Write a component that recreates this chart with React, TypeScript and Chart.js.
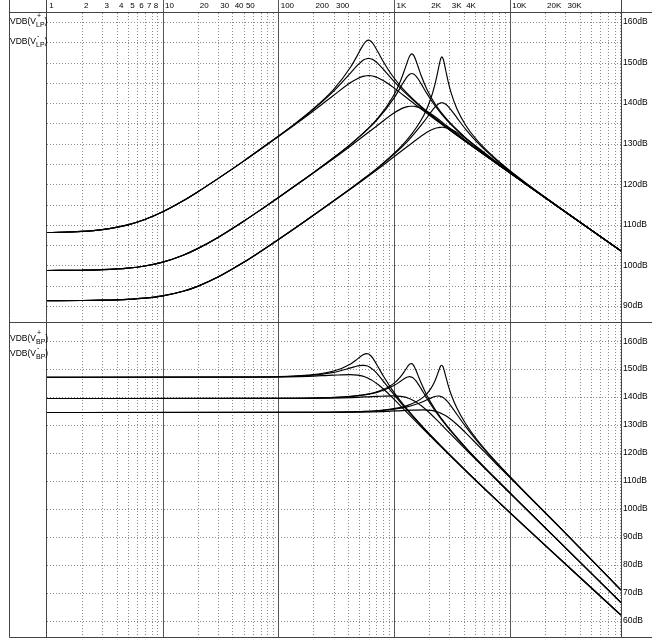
import React, { useEffect, useRef } from 'react';
import { Chart, registerables } from 'chart.js';

Chart.register(...registerables);

// ---------- axes ----------
const GRID_X = [
  1, 2, 3, 4, 5, 6, 7, 8, 9,
  10, 20, 30, 40, 50, 60, 70, 80, 90,
  100, 200, 300, 400, 500, 600, 700, 800, 900,
  1000, 2000, 3000, 4000, 5000, 6000, 7000, 8000, 9000,
  10000, 20000, 30000, 40000, 50000, 60000, 70000, 80000, 90000,
];
const DECADES = [10, 100, 1000, 10000];
const X_LABEL_VALUES = [1, 2, 3, 4, 5, 6, 7, 8, 10, 20, 30, 40, 50, 100, 200, 300, 1000, 2000, 3000, 4000, 10000, 20000, 30000];
const X_LABEL_TEXT = ['1', '2', '3', '4', '5', '6', '7', '8', '10', '20', '30', '40', '50', '100', '200', '300', '1K', '2K', '3K', '4K', '10K', '20K', '30K'];
const X_MIN = 1;
const X_MAX = 91000;

const TOP_Y_TICKS = [90, 95, 100, 105, 110, 115, 120, 125, 130, 135, 140, 145, 150, 155, 160];
const BOT_Y_TICKS = [60, 70, 80, 90, 100, 110, 120, 130, 140, 150, 160];
const TOP_Y_MIN = 85.8;
const TOP_Y_MAX = 162.2;
const BOT_Y_MIN = 54.2;
const BOT_Y_MAX = 166.5;

const TOP_TRACE_NAMES = ['+', '-'];
const TOP_TRACE_SUB = 'LP';
const BOT_TRACE_NAMES = ['+', '-'];
const BOT_TRACE_SUB = 'BP';

// ---------- top panel (LP) ----------
const FREQ_TOP_A = [1, 2, 3, 5, 7, 10, 15, 20, 30, 50, 70, 100, 130, 180, 300, 420, 480, 522, 552, 576, 600, 624, 648, 678, 720, 810, 960, 1200, 1800, 3000, 6000, 91000];
const TOP_A1 = [108.10, 108.38, 108.82, 109.98, 111.29, 113.20, 115.92, 118.10, 121.38, 125.69, 128.69, 131.88, 134.31, 137.49, 143.40, 148.88, 151.75, 153.66, 154.75, 155.31, 155.50, 155.32, 154.85, 154.02, 152.69, 150.05, 146.79, 143.40, 138.59, 133.55, 127.28, 103.58];
const TOP_A2 = [108.10, 108.38, 108.82, 109.98, 111.29, 113.20, 115.92, 118.10, 121.38, 125.69, 128.67, 131.85, 134.25, 137.37, 142.94, 147.44, 149.28, 150.26, 150.73, 150.94, 151.01, 150.94, 150.77, 150.42, 149.79, 148.24, 145.84, 142.94, 138.43, 133.50, 127.27, 103.58];
const TOP_A3 = [108.10, 108.38, 108.82, 109.98, 111.29, 113.20, 115.92, 118.10, 121.38, 125.69, 128.63, 131.77, 134.11, 137.07, 141.94, 145.05, 146.02, 146.46, 146.65, 146.73, 146.75, 146.73, 146.66, 146.52, 146.25, 145.50, 144.06, 141.94, 138.05, 133.37, 127.24, 103.58];

const FREQ_TOP_B = [1, 2, 3, 5, 7, 10, 15, 20, 30, 50, 70, 100, 150, 200, 300, 426, 710, 994, 1136, 1235, 1306, 1363, 1420, 1477, 1534, 1605, 1704, 1917, 2272, 2840, 4260, 7100, 14200, 91000];
const TOP_B1 = [98.73, 98.81, 98.94, 99.33, 99.86, 100.80, 102.50, 104.13, 106.89, 110.89, 113.68, 116.75, 120.28, 122.84, 126.57, 130.02, 136.05, 142.00, 145.55, 148.38, 150.41, 151.67, 152.14, 151.70, 150.63, 149.02, 146.87, 143.37, 139.66, 136.05, 131.13, 126.04, 119.76, 103.55];
const TOP_B2 = [98.73, 98.81, 98.94, 99.33, 99.86, 100.80, 102.50, 104.13, 106.89, 110.89, 113.68, 116.75, 120.28, 122.83, 126.55, 129.97, 135.84, 141.21, 143.94, 145.67, 146.64, 147.13, 147.28, 147.13, 146.73, 146.00, 144.80, 142.32, 139.18, 135.83, 131.06, 126.02, 119.76, 103.55];
const TOP_B3 = [98.73, 98.81, 98.94, 99.33, 99.86, 100.80, 102.50, 104.13, 106.89, 110.89, 113.68, 116.73, 120.23, 122.75, 126.36, 129.56, 134.42, 137.54, 138.51, 138.94, 139.13, 139.21, 139.23, 139.21, 139.14, 139.01, 138.74, 137.98, 136.55, 134.42, 130.54, 125.85, 119.72, 103.55];

const FREQ_TOP_C = [1, 2, 3, 5, 7, 10, 15, 20, 30, 50, 70, 100, 150, 200, 300, 500, 774, 1290, 1806, 2064, 2245, 2374, 2477, 2528, 2580, 2632, 2683, 2786, 2915, 3096, 3483, 4128, 5160, 7740, 12900, 25800, 91000];
const TOP_C1 = [91.31, 91.35, 91.42, 91.63, 91.92, 92.48, 93.61, 94.82, 97.12, 100.76, 103.43, 106.39, 109.84, 112.36, 115.93, 120.56, 124.84, 130.93, 137.08, 141.01, 144.56, 147.65, 150.16, 151.06, 151.39, 151.07, 150.25, 148.03, 145.43, 142.59, 138.56, 134.61, 130.93, 125.96, 120.85, 114.58, 103.53];
const TOP_C2 = [91.31, 91.35, 91.42, 91.63, 91.92, 92.48, 93.61, 94.82, 97.12, 100.76, 103.43, 106.39, 109.84, 112.35, 115.91, 120.52, 124.72, 130.46, 135.42, 137.68, 138.99, 139.64, 139.96, 140.04, 140.07, 140.04, 139.97, 139.70, 139.21, 138.34, 136.37, 133.60, 130.46, 125.80, 120.80, 114.56, 103.53];
const TOP_C3 = [91.31, 91.35, 91.42, 91.63, 91.92, 92.48, 93.61, 94.82, 97.12, 100.76, 103.43, 106.39, 109.84, 112.33, 115.86, 120.38, 124.36, 129.23, 132.34, 133.31, 133.75, 133.93, 134.01, 134.03, 134.04, 134.04, 134.02, 133.94, 133.81, 133.54, 132.78, 131.35, 129.23, 125.34, 120.65, 114.53, 103.53];

// ---------- bottom panel (BP) ----------
const FREQ_BOT_A = [1, 60, 120, 180, 300, 420, 480, 522, 552, 576, 600, 624, 648, 678, 720, 810, 960, 1200, 1800, 3000, 6000, 91000];
const BOT_A1 = [147.10, 147.18, 147.43, 147.85, 149.32, 151.88, 153.59, 154.77, 155.37, 155.57, 155.40, 154.88, 154.09, 152.86, 151.01, 147.34, 142.61, 137.28, 128.95, 119.47, 107.30, 62.0];
const BOT_A2 = [147.10, 147.17, 147.38, 147.73, 148.86, 150.44, 151.12, 151.37, 151.35, 151.19, 150.91, 150.50, 150.00, 149.26, 148.11, 145.53, 141.66, 136.82, 128.79, 119.42, 107.29, 62.0];
const BOT_A3 = [147.10, 147.14, 147.25, 147.43, 147.86, 148.05, 147.86, 147.57, 147.27, 146.98, 146.66, 146.29, 145.89, 145.36, 144.57, 142.79, 139.88, 135.82, 128.41, 119.29, 107.26, 62.0];

const FREQ_BOT_B = [1, 142, 284, 426, 710, 994, 1136, 1235, 1306, 1363, 1420, 1477, 1534, 1605, 1704, 1917, 2272, 2840, 4260, 7100, 14200, 91000];
const BOT_B1 = [139.50, 139.59, 139.84, 140.29, 141.89, 144.91, 147.30, 149.41, 150.95, 151.84, 151.96, 151.18, 149.78, 147.77, 145.10, 140.58, 135.39, 129.85, 121.40, 111.89, 99.50, 66.5];
const BOT_B2 = [139.50, 139.58, 139.82, 140.24, 141.68, 144.12, 145.69, 146.70, 147.18, 147.30, 147.10, 146.61, 145.88, 144.75, 143.03, 139.53, 134.91, 129.64, 121.33, 111.86, 99.49, 66.5];
const BOT_B3 = [139.50, 139.54, 139.65, 139.83, 140.26, 140.45, 140.26, 139.97, 139.67, 139.38, 139.06, 138.69, 138.29, 137.76, 136.97, 135.19, 132.28, 128.22, 120.81, 111.69, 99.45, 66.5];

const FREQ_BOT_C = [1, 258, 516, 774, 1290, 1806, 2064, 2245, 2374, 2477, 2528, 2580, 2632, 2683, 2786, 2915, 3096, 3483, 4128, 5160, 7740, 12900, 25800, 91000];
const BOT_C1 = [134.50, 134.59, 134.85, 135.31, 136.96, 140.19, 142.96, 145.78, 148.39, 150.53, 151.25, 151.40, 150.91, 149.92, 147.38, 144.38, 141.02, 135.97, 130.55, 124.92, 116.43, 106.80, 94.20, 71.0];
const BOT_C2 = [134.50, 134.58, 134.80, 135.19, 136.49, 138.53, 139.63, 140.21, 140.38, 140.33, 140.23, 140.08, 139.88, 139.64, 139.05, 138.16, 136.77, 133.78, 129.53, 124.45, 116.27, 106.75, 94.19, 71.0];
const BOT_C3 = [134.50, 134.54, 134.65, 134.83, 135.26, 135.45, 135.26, 134.97, 134.67, 134.38, 134.22, 134.06, 133.88, 133.69, 133.29, 132.76, 131.97, 130.19, 127.28, 123.22, 115.81, 106.60, 94.15, 71.0];

const FONT = '"Liberation Sans", Arial, sans-serif';

function series(freqs: number[], vals: number[], axis: string) {
  return {
    data: freqs.map((f, i) => ({ x: f, y: vals[i] })),
    yAxisID: axis,
    borderColor: '#000',
    borderWidth: 1.15,
    pointRadius: 0,
    fill: false,
    cubicInterpolationMode: 'monotone' as const,
  };
}

const framePlugin = {
  id: 'spiceFrame',
  beforeDatasetsDraw(chart: any) {
    const { ctx, chartArea: a, scales } = chart;
    const sx = scales.x;
    const yT = scales.y;
    const yB = scales.y2;
    const line = (x1: number, y1: number, x2: number, y2: number) => {
      ctx.beginPath();
      ctx.moveTo(x1, y1);
      ctx.lineTo(x2, y2);
      ctx.stroke();
    };
    ctx.save();
    ctx.lineWidth = 1;
    ctx.strokeStyle = '#8a8a8a';
    ctx.setLineDash([1, 2]);
    for (const v of TOP_Y_TICKS) {
      const py = Math.round(yT.getPixelForValue(v)) + 0.5;
      line(a.left, py, a.right, py);
    }
    for (const v of BOT_Y_TICKS) {
      const py = Math.round(yB.getPixelForValue(v)) + 0.5;
      line(a.left, py, a.right, py);
    }
    for (const v of GRID_X) {
      if (v === X_MIN || DECADES.includes(v)) continue;
      const px = Math.round(sx.getPixelForValue(v)) + 0.5;
      line(px, a.top, px, a.bottom);
    }
    ctx.setLineDash([]);
    ctx.strokeStyle = '#555';
    for (const v of DECADES) {
      const px = Math.round(sx.getPixelForValue(v)) + 0.5;
      line(px, 0, px, a.bottom);
    }
    ctx.restore();
  },
  afterDraw(chart: any) {
    const { ctx, chartArea: a, scales, width } = chart;
    const yB = scales.y2;
    const line = (x1: number, y1: number, x2: number, y2: number) => {
      ctx.beginPath();
      ctx.moveTo(x1, y1);
      ctx.lineTo(x2, y2);
      ctx.stroke();
    };
    ctx.save();
    ctx.lineWidth = 1;
    ctx.strokeStyle = '#444';
    const outerLeft = 9.5;
    line(outerLeft, 0, outerLeft, a.bottom + 0.5);
    line(a.left - 0.5, 0, a.left - 0.5, a.bottom + 0.5);
    line(a.right + 0.5, 0, a.right + 0.5, a.bottom + 0.5);
    line(outerLeft, a.top - 0.5, width, a.top - 0.5);
    line(outerLeft, Math.round(yB.top) - 0.5, width, Math.round(yB.top) - 0.5);
    line(outerLeft, a.bottom + 0.5, width, a.bottom + 0.5);
    ctx.restore();
  },
};

function TraceLabel({ sign, sub, top }: { sign: string; sub: string; top: number }) {
  return (
    <div
      style={{
        position: 'absolute',
        left: 10,
        top,
        font: `8.5px ${FONT}`,
        lineHeight: '10px',
        color: '#000',
        whiteSpace: 'nowrap',
      }}
    >
      VDB(V
      <span style={{ position: 'relative', display: 'inline-block' }}>
        <span style={{ position: 'absolute', left: 1, top: -5, fontSize: 7 }}>{sign}</span>
        <span style={{ position: 'relative', top: 3, fontSize: 7 }}>{sub}</span>
      </span>
      )
    </div>
  );
}

function fitRight(s: any) {
  s.width = 31;
  s.paddingTop = 0;
  s.paddingBottom = 0;
}

export default function App() {
  const canvasRef = useRef<HTMLCanvasElement | null>(null);

  useEffect(() => {
    if (!canvasRef.current) return;
    const chart = new Chart(canvasRef.current, {
      type: 'line',
      data: {
        datasets: [
          series(FREQ_TOP_A, TOP_A1, 'y'),
          series(FREQ_TOP_A, TOP_A2, 'y'),
          series(FREQ_TOP_A, TOP_A3, 'y'),
          series(FREQ_TOP_B, TOP_B1, 'y'),
          series(FREQ_TOP_B, TOP_B2, 'y'),
          series(FREQ_TOP_B, TOP_B3, 'y'),
          series(FREQ_TOP_C, TOP_C1, 'y'),
          series(FREQ_TOP_C, TOP_C2, 'y'),
          series(FREQ_TOP_C, TOP_C3, 'y'),
          series(FREQ_BOT_A, BOT_A1, 'y2'),
          series(FREQ_BOT_A, BOT_A2, 'y2'),
          series(FREQ_BOT_A, BOT_A3, 'y2'),
          series(FREQ_BOT_B, BOT_B1, 'y2'),
          series(FREQ_BOT_B, BOT_B2, 'y2'),
          series(FREQ_BOT_B, BOT_B3, 'y2'),
          series(FREQ_BOT_C, BOT_C1, 'y2'),
          series(FREQ_BOT_C, BOT_C2, 'y2'),
          series(FREQ_BOT_C, BOT_C3, 'y2'),
        ],
      },
      options: {
        responsive: false,
        animation: false,
        events: [],
        layout: { padding: { left: 47, right: 0, top: 0, bottom: 1 } },
        plugins: { legend: { display: false }, tooltip: { enabled: false } },
        scales: {
          x: {
            type: 'logarithmic',
            position: 'top',
            min: X_MIN,
            max: X_MAX,
            grid: { display: false, drawTicks: false, tickLength: 0 },
            border: { display: false },
            afterBuildTicks: (s: any) => {
              s.ticks = GRID_X.map((v) => ({ value: v }));
            },
            afterFit: (s: any) => {
              s.height = 13;
              s.paddingLeft = 0;
              s.paddingRight = 0;
            },
            ticks: {
              autoSkip: false,
              maxRotation: 0,
              minRotation: 0,
              align: 'start',
              padding: 2,
              color: '#000',
              font: { size: 8, family: FONT },
              callback: (v: any) => {
                const i = X_LABEL_VALUES.indexOf(Number(v));
                return i >= 0 ? ' ' + X_LABEL_TEXT[i] : '';
              },
            },
          },
          y: {
            type: 'linear',
            position: 'right',
            stack: 'panels',
            stackWeight: 310,
            min: TOP_Y_MIN,
            max: TOP_Y_MAX,
            grid: { display: false, drawTicks: false, tickLength: 0 },
            border: { display: false },
            afterBuildTicks: (s: any) => {
              s.ticks = TOP_Y_TICKS.map((v) => ({ value: v }));
            },
            afterFit: fitRight,
            ticks: {
              padding: 2,
              color: '#000',
              font: { size: 8.5, family: FONT },
              callback: (v: any) => v + 'dB',
            },
          },
          y2: {
            type: 'linear',
            position: 'right',
            stack: 'panels',
            stackWeight: 314,
            min: BOT_Y_MIN,
            max: BOT_Y_MAX,
            grid: { display: false, drawTicks: false, tickLength: 0 },
            border: { display: false },
            afterBuildTicks: (s: any) => {
              s.ticks = BOT_Y_TICKS.map((v) => ({ value: v }));
            },
            afterFit: fitRight,
            ticks: {
              padding: 2,
              color: '#000',
              font: { size: 8.5, family: FONT },
              callback: (v: any) => v + 'dB',
            },
          },
        },
      } as any,
      plugins: [framePlugin],
    });
    return () => chart.destroy();
  }, []);

  return (
    <div style={{ position: 'absolute', left: 0, top: 0, width: 652, height: 638, background: '#fff' }}>
      <canvas ref={canvasRef} width={652} height={638} style={{ position: 'absolute', left: 0, top: 0 }} />
      <TraceLabel sign={TOP_TRACE_NAMES[0]} sub={TOP_TRACE_SUB} top={16} />
      <TraceLabel sign={TOP_TRACE_NAMES[1]} sub={TOP_TRACE_SUB} top={36} />
      <TraceLabel sign={BOT_TRACE_NAMES[0]} sub={BOT_TRACE_SUB} top={333} />
      <TraceLabel sign={BOT_TRACE_NAMES[1]} sub={BOT_TRACE_SUB} top={348} />
    </div>
  );
}
